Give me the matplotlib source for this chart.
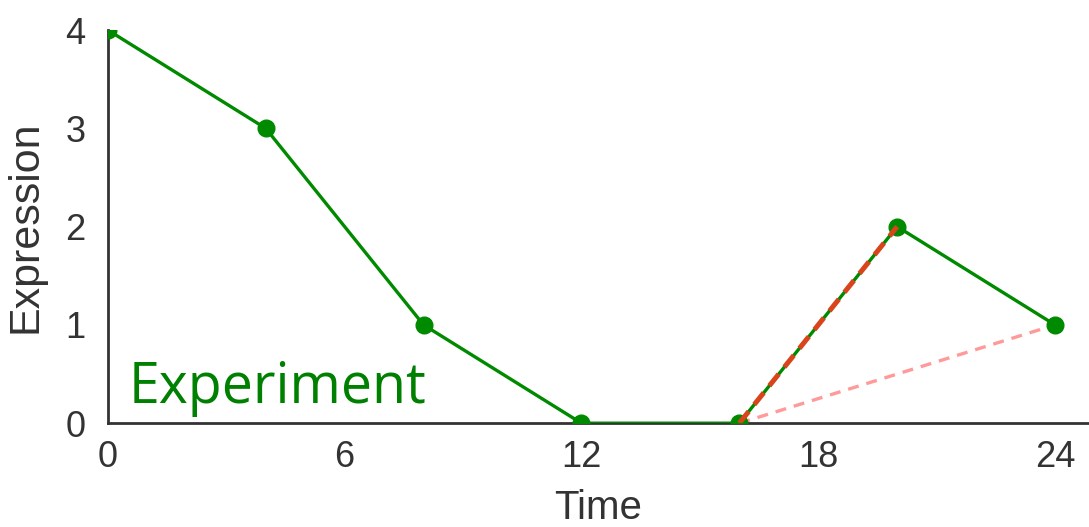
import matplotlib
matplotlib.use("Agg")
import matplotlib.pyplot as plt

# Measured expression over time
time = [0, 4, 8, 12, 16, 20, 24]
expression = [4, 3, 1, 0, 0, 2, 1]

# Segments highlighted after the rise at t=16
rise_time = [16, 20]
rise_expr = [0, 2]
trend_time = [16, 24]
trend_expr = [0, 1]

xticks = [0, 6, 12, 18, 24]
yticks = [0, 1, 2, 3, 4]

plt.rcParams["font.family"] = ["Liberation Sans", "DejaVu Sans"]

fig = plt.figure(figsize=(10.89, 5.27), dpi=100)
ax = fig.add_axes([0.099, 0.197, 0.901, 0.746])

green = "#008a00"
ax.plot(time, expression, color=green, lw=2.4, marker="o", ms=12, zorder=3)
ax.plot(rise_time, rise_expr, color="#d8451c", lw=3.6, ls=(0, (3.0, 1.8)), zorder=4)
ax.plot(trend_time, trend_expr, color="#ff9a9a", lw=2.4, ls=(0, (3.3, 2.4)), zorder=2)

ax.set_xlim(0, 24.86)
ax.set_ylim(0, 4)
ax.set_xticks(xticks)
ax.set_yticks(yticks)
ax.tick_params(length=0, labelsize=26, colors="#333333")
ax.tick_params(axis="x", pad=12)
ax.tick_params(axis="y", pad=16)
for s in ["top", "right"]:
    ax.spines[s].set_visible(False)
for s in ["left", "bottom"]:
    ax.spines[s].set_color("#333333")
    ax.spines[s].set_linewidth(2)

ax.set_xlabel("Time", fontsize=29, color="#333333", labelpad=10)
ax.set_ylabel("Expression", fontsize=31, color="#333333", labelpad=14)

ax.text(0.52, 0.35, "Experiment", color="#008000", fontsize=40,
        family=["Open Sans", "DejaVu Sans"], va="center", ha="left")

fig.savefig("out.png", dpi=100)
